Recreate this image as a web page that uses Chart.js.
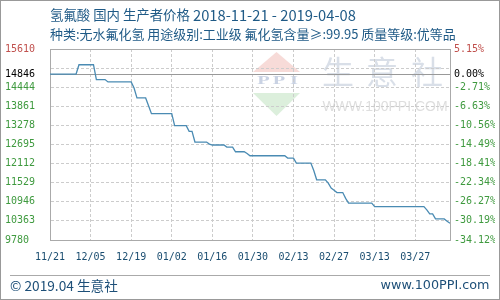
<!DOCTYPE html>
<html>
<head>
<meta charset="utf-8">
<script src="https://cdn.jsdelivr.net/npm/chart.js@4/dist/chart.umd.min.js"></script>
<style>
html,body{margin:0;padding:0;background:#fff;}
#wrap{position:relative;width:500px;height:300px;}
</style>
</head>
<body>
<div id="wrap"><canvas id="c" width="500" height="300"></canvas></div>
<script>
// ---- data ----
const dates = [
 '2018-11-21','2018-11-30','2018-12-01','2018-12-06','2018-12-07','2018-12-10','2018-12-11','2018-12-19',
 '2018-12-20','2018-12-21','2018-12-24','2018-12-25','2018-12-26','2019-01-02','2019-01-03','2019-01-07',
 '2019-01-08','2019-01-09','2019-01-10','2019-01-14','2019-01-15','2019-01-16','2019-01-20','2019-01-21',
 '2019-01-23','2019-01-24','2019-01-27','2019-01-28','2019-01-29','2019-02-10','2019-02-11','2019-02-13',
 '2019-02-14','2019-02-19','2019-02-20','2019-02-21','2019-02-24','2019-02-25','2019-02-26','2019-02-27',
 '2019-02-28','2019-03-02','2019-03-03','2019-03-04','2019-03-12','2019-03-13','2019-03-30','2019-03-31',
 '2019-04-01','2019-04-02','2019-04-03','2019-04-06','2019-04-07','2019-04-08'
];
const prices = [
 14846,14846,15130,15130,14677,14677,14606,14606,
 14420,14117,14117,13880,13636,13636,13269,13269,
 13095,13095,12770,12770,12709,12679,12679,12617,
 12617,12474,12474,12420,12351,12351,12281,12281,
 12128,12128,11900,11617,11617,11516,11363,11300,
 11228,11228,11050,10904,10904,10800,10800,10700,
 10576,10576,10423,10423,10350,10292
];
const startDate = '2018-11-21';
const endDate = '2019-04-08';
const basePrice = 14846;
const yTickValues = [9780,10363,10946,11529,12112,12695,13278,13861,14444,14846,15027,15610];
const yUnlabelled = [15027];
const yPctLabels = {9780:'-34.12%',10363:'-30.19%',10946:'-26.27%',11529:'-22.34%',12112:'-18.41%',12695:'-14.49%',13278:'-10.56%',13861:'-6.63%',14444:'-2.71%',14846:'0.00%',15610:'5.15%'};
const xTickDates = ['2018-11-21','2018-12-05','2018-12-19','2019-01-02','2019-01-16','2019-01-30','2019-02-13','2019-02-27','2019-03-13','2019-03-27'];
const xTickLabels = ['11/21','12/05','12/19','01/02','01/16','01/30','02/13','02/27','03/13','03/27'];
const titleLine1a = '氢氟酸 国内 生产者价格';
const titleLine1b = '2018-11-21 - 2019-04-08';
const titleLine2 = '种类:无水氟化氢 用途级别:工业级 氟化氢含量≥:99.95 质量等级:优等品';
const footerLeft = '© 2019.04 生意社';
const footerRight = 'www.100PPI.com';

const DAY = 86400000;
const dayOf = d => (Date.parse(d) - Date.parse(startDate)) / DAY;
const points = dates.map((d, i) => ({x: dayOf(d), y: prices[i]}));
const xTickDays = xTickDates.map(dayOf);

const MONO = '"DejaVu Sans Mono", monospace';
const CJK = '"Noto Sans CJK SC", "Noto Sans", sans-serif';
const RED = '#c0504d', GREEN = '#3f9a3f', BLUE_TXT = '#1f5a86';
const colorFor = v => v === 15610 ? RED : (v === basePrice ? '#000' : GREEN);

// draw text whose font size is tuned so that its width matches the reference
function fitText(ctx, text, x, y, family, baseSize, targetWidth, align) {
  ctx.font = baseSize + 'px ' + family;
  const w = ctx.measureText(text).width;
  let size = baseSize * targetWidth / w;
  size = Math.max(baseSize * 0.8, Math.min(baseSize * 1.25, size));
  ctx.font = size.toFixed(2) + 'px ' + family;
  ctx.textAlign = align || 'left';
  ctx.fillText(text, x, y);
}

const decor = {
  id: 'decor',
  beforeDraw(chart) {
    const ctx = chart.ctx;
    ctx.save();
    ctx.fillStyle = '#fff';
    ctx.fillRect(0, 0, 500, 300);
    // watermark logo
    ctx.fillStyle = '#f7dbd8';
    ctx.beginPath(); ctx.moveTo(276.5, 52); ctx.lineTo(300, 72); ctx.lineTo(253, 72); ctx.closePath(); ctx.fill();
    ctx.fillStyle = '#dcefdc';
    ctx.beginPath(); ctx.moveTo(253, 93); ctx.lineTo(300, 93); ctx.lineTo(276.5, 116); ctx.closePath(); ctx.fill();
    ctx.fillStyle = '#c9d2e3';
    ctx.font = 'bold 12px "Liberation Serif", serif';
    ctx.textAlign = 'center'; ctx.textBaseline = 'middle';
    [['P', 263.5], ['P', 279], ['I', 294]].forEach(([ch, cx]) => {
      ctx.save();
      ctx.translate(cx, 81);
      ctx.scale(1.7, 1);
      ctx.fillText(ch, 0, 0);
      ctx.restore();
    });
    ctx.fillStyle = '#d9dfe8';
    ctx.font = '32px ' + CJK;
    ['生','意','社'].forEach((ch, i) => ctx.fillText(ch, [338, 382, 427][i], 72));
    ctx.fillStyle = '#dedede';
    ctx.font = '14px "Liberation Sans", sans-serif';
    ctx.fillText('WWW.100PPI.COM', 385, 107);
    ctx.restore();
  },
  beforeDatasetsDraw(chart) {
    const ctx = chart.ctx, a = chart.chartArea, y = chart.scales.y;
    ctx.save();
    ctx.strokeStyle = '#999';
    ctx.lineWidth = 1;
    const yb = Math.round(y.getPixelForValue(basePrice)) + 0.5;
    ctx.beginPath(); ctx.moveTo(a.left, yb); ctx.lineTo(a.right, yb); ctx.stroke();
    ctx.strokeStyle = '#aaa';
    ctx.strokeRect(Math.round(a.left) + 0.5, Math.round(a.top) + 0.5, Math.round(a.right - a.left), Math.round(a.bottom - a.top));
    ctx.restore();
  },
  afterDraw(chart) {
    const ctx = chart.ctx;
    ctx.save();
    ctx.fillStyle = BLUE_TXT;
    ctx.textBaseline = 'middle';
    fitText(ctx, titleLine1a, 50, 15, CJK, 13, 140);
    fitText(ctx, titleLine1b, 193, 15, CJK, 13, 163);
    fitText(ctx, titleLine2, 50, 34, CJK, 12, 406);
    // footer
    ctx.strokeStyle = '#aaa'; ctx.lineWidth = 1;
    ctx.beginPath(); ctx.moveTo(10, 275.5); ctx.lineTo(490, 275.5); ctx.stroke();
    ctx.fillStyle = '#1d4f78';
    fitText(ctx, footerLeft, 10, 286, CJK, 13, 108);
    fitText(ctx, footerRight, 489.5, 286, '"DejaVu Sans", sans-serif', 13, 109, 'right');
    // outer border
    ctx.strokeStyle = '#999';
    ctx.strokeRect(0.5, 0.5, 499, 299);
    ctx.restore();
  }
};

new Chart(document.getElementById('c'), {
  type: 'line',
  data: {
    datasets: [{
      data: points,
      borderColor: '#4a8bb3',
      borderWidth: 1.3,
      pointRadius: 0,
      tension: 0,
      fill: false
    }]
  },
  options: {
    responsive: false,
    animation: false,
    events: [],
    layout: {padding: {left: 5, right: 5, top: 49, bottom: 0}},
    plugins: {legend: {display: false}, tooltip: {enabled: false}},
    scales: {
      x: {
        type: 'linear',
        min: 0,
        max: dayOf(endDate),
        afterBuildTicks: s => { s.ticks = xTickDays.map(v => ({value: v})); },
        afterFit: s => { s.height = 60; },
        ticks: {
          autoSkip: false, maxRotation: 0, padding: 11,
          font: {family: MONO, size: 10},
          color: '#1a4d70',
          callback: (v) => { const i = xTickDays.indexOf(v); return i >= 0 ? xTickLabels[i] : ''; }
        },
        grid: {color: '#cccccc', drawTicks: false, lineWidth: 1},
        border: {display: true, color: '#999', dash: [3, 2]}
      },
      y: {
        position: 'left',
        min: yTickValues[0],
        max: yTickValues[yTickValues.length - 1],
        afterBuildTicks: s => { s.ticks = yTickValues.map(v => ({value: v})); },
        afterFit: s => { s.width = 45; },
        ticks: {
          autoSkip: false, crossAlign: 'far', padding: 4,
          font: {family: MONO, size: 10},
          color: c => colorFor(c.tick.value),
          callback: v => yUnlabelled.includes(v) ? '' : String(v)
        },
        grid: {color: '#cccccc', drawTicks: false, lineWidth: 1},
        border: {display: true, color: '#999', dash: [3, 2]}
      },
      y2: {
        position: 'right',
        min: yTickValues[0],
        max: yTickValues[yTickValues.length - 1],
        afterBuildTicks: s => { s.ticks = yTickValues.map(v => ({value: v})); },
        afterFit: s => { s.width = 45; },
        ticks: {
          autoSkip: false, crossAlign: 'near', padding: 4,
          font: {family: MONO, size: 10},
          color: c => colorFor(c.tick.value),
          callback: v => yPctLabels[v] || ''
        },
        grid: {display: false, drawTicks: false},
        border: {display: true, color: '#999'}
      }
    }
  },
  plugins: [decor]
});
</script>
</body>
</html>
